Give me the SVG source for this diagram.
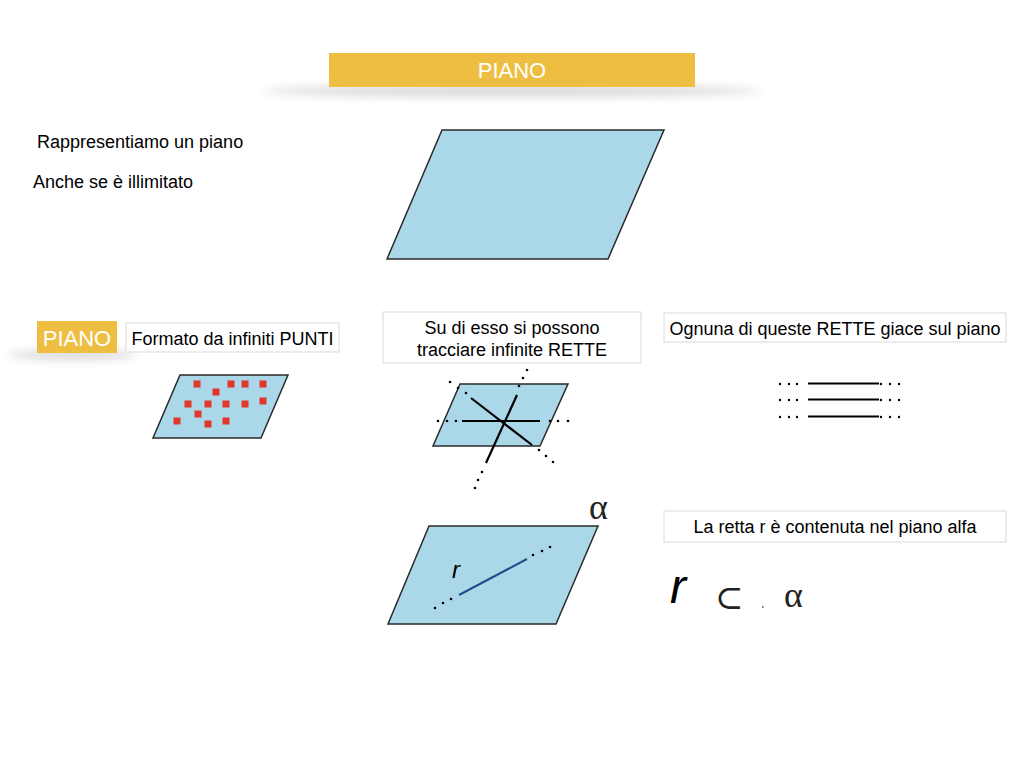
<svg xmlns="http://www.w3.org/2000/svg" width="1024" height="768" viewBox="0 0 1024 768">
<defs>
<filter id="blur" x="-20%" y="-200%" width="140%" height="500%"><feGaussianBlur stdDeviation="5"/></filter>
<style>
.t{font-family:"Liberation Sans",Arial,sans-serif;fill:#000}
.lbl{font-family:"Liberation Sans",Arial,sans-serif;fill:#fff}
.plane{fill:#aad8e9;stroke:#2a2a2a;stroke-width:1.5}
.box{fill:#fff;stroke:#d9d9d9;stroke-width:1}
.dot{fill:#000}
.sq{fill:#e0392b}
.ln{stroke:#000;stroke-width:2.2;fill:none}
.greek{font-family:"Liberation Serif","DejaVu Serif",serif;fill:#222}
</style>
</defs>
<rect width="1024" height="768" fill="#fff"/>

<g id="title">
<ellipse cx="512" cy="91" rx="250" ry="6" fill="#000" opacity="0.15" filter="url(#blur)"/>
<rect x="329" y="53" width="366" height="34" fill="#eebe43"/>
<text class="lbl" x="512" y="78" font-size="22" text-anchor="middle">PIANO</text>
</g>

<g id="intro">
<text class="t" x="37" y="148" font-size="18">Rappresentiamo un piano</text>
<text class="t" x="33" y="188" font-size="18">Anche se è illimitato</text>
</g>

<g id="plane-main">
<polygon class="plane" points="442,130 664,130 608,259 387,259"/>
</g>

<g id="piano-label">
<ellipse cx="72" cy="355" rx="65" ry="4" fill="#000" opacity="0.18" filter="url(#blur)"/>
<rect x="37" y="321" width="80" height="32" fill="#eebe43"/>
<text class="lbl" x="77" y="346" font-size="22" text-anchor="middle">PIANO</text>
</g>

<g id="box-punti">
<rect class="box" x="126" y="323" width="213" height="29"/>
<text class="t" x="232.5" y="345" font-size="18" text-anchor="middle">Formato da infiniti PUNTI</text>
</g>

<g id="plane-punti">
<polygon class="plane" points="180,375 288,375 261,438 153,438"/>
<g class="sq">
<rect x="193.5" y="380.5" width="7" height="7"/>
<rect x="227.5" y="380.5" width="7" height="7"/>
<rect x="241.5" y="380.5" width="7" height="7"/>
<rect x="259.5" y="380.5" width="7" height="7"/>
<rect x="212.5" y="388.5" width="7" height="7"/>
<rect x="184.5" y="400.5" width="7" height="7"/>
<rect x="204.5" y="400.5" width="7" height="7"/>
<rect x="222.5" y="400.5" width="7" height="7"/>
<rect x="241.5" y="400.5" width="7" height="7"/>
<rect x="259.5" y="397.5" width="7" height="7"/>
<rect x="194.5" y="410.5" width="7" height="7"/>
<rect x="173.5" y="417.5" width="7" height="7"/>
<rect x="204.5" y="420.5" width="7" height="7"/>
<rect x="222.5" y="417.5" width="7" height="7"/>
</g>
</g>

<g id="box-rette">
<rect class="box" x="383" y="312" width="258" height="51"/>
<text class="t" x="512" y="334" font-size="18" text-anchor="middle">Su di esso si possono</text>
<text class="t" x="512" y="356" font-size="18" text-anchor="middle">tracciare infinite RETTE</text>
</g>

<g id="plane-rette">
<polygon class="plane" points="460,384 568,384 540,446 433,446"/>
<line class="ln" x1="462" y1="421" x2="540" y2="421"/>
<line class="ln" x1="471" y1="398" x2="532" y2="445"/>
<line class="ln" x1="517" y1="395" x2="486" y2="463"/>
<g class="dot">
<circle cx="438" cy="421" r="1.3"/><circle cx="447" cy="421" r="1.3"/><circle cx="456" cy="421" r="1.3"/>
<circle cx="550" cy="421" r="1.3"/><circle cx="558" cy="421" r="1.3"/><circle cx="568" cy="421" r="1.3"/>
<circle cx="450" cy="382" r="1.3"/><circle cx="458" cy="388" r="1.3"/><circle cx="466" cy="393" r="1.3"/>
<circle cx="539" cy="450" r="1.3"/><circle cx="546" cy="456" r="1.3"/><circle cx="553" cy="462" r="1.3"/>
<circle cx="519" cy="386" r="1.3"/><circle cx="523" cy="378" r="1.3"/><circle cx="527" cy="370" r="1.3"/>
<circle cx="482" cy="472" r="1.3"/><circle cx="478" cy="480" r="1.3"/><circle cx="475" cy="488" r="1.3"/>
</g>
</g>

<g id="box-ognuna">
<rect class="box" x="664" y="313" width="342" height="29"/>
<text class="t" x="835" y="335" font-size="18" text-anchor="middle">Ognuna di queste RETTE giace sul piano</text>
</g>

<g id="three-lines">
<line class="ln" x1="808" y1="383.5" x2="879" y2="383.5"/>
<line class="ln" x1="808" y1="399.5" x2="879" y2="399.5"/>
<line class="ln" x1="808" y1="416.5" x2="879" y2="416.5"/>
<g class="dot">
<circle cx="780" cy="384" r="1.2"/><circle cx="789" cy="384" r="1.2"/><circle cx="797" cy="384" r="1.2"/>
<circle cx="881" cy="384" r="1.2"/><circle cx="890" cy="384" r="1.2"/><circle cx="899" cy="384" r="1.2"/>
<circle cx="780" cy="400" r="1.2"/><circle cx="789" cy="400" r="1.2"/><circle cx="797" cy="400" r="1.2"/>
<circle cx="881" cy="400" r="1.2"/><circle cx="890" cy="400" r="1.2"/><circle cx="899" cy="400" r="1.2"/>
<circle cx="780" cy="417" r="1.2"/><circle cx="789" cy="417" r="1.2"/><circle cx="797" cy="417" r="1.2"/>
<circle cx="881" cy="417" r="1.2"/><circle cx="890" cy="417" r="1.2"/><circle cx="899" cy="417" r="1.2"/>
</g>
</g>

<g id="plane-alfa">
<polygon class="plane" points="429,526 598,526 556,624 388,624"/>
<text class="greek" x="589" y="519" font-size="36">α</text>
<text class="t" x="452" y="578" font-size="24" font-style="italic">r</text>
<line x1="459" y1="595" x2="527" y2="559" stroke="#1f4e8a" stroke-width="2"/>
<g class="dot">
<circle cx="435" cy="608" r="1.3"/><circle cx="443" cy="603" r="1.3"/><circle cx="451" cy="599" r="1.3"/>
<circle cx="533" cy="555" r="1.3"/><circle cx="542" cy="551" r="1.3"/><circle cx="550" cy="547" r="1.3"/>
</g>
</g>

<g id="box-retta">
<rect class="box" x="664" y="511" width="342" height="31"/>
<text class="t" x="835" y="533" font-size="18" text-anchor="middle">La retta r è contenuta nel piano alfa</text>
</g>

<g id="formula">
<text class="t" x="670" y="603" font-size="48" font-style="italic">r</text>
<text x="715" y="609" font-size="34" font-family="DejaVu Serif, serif" fill="#222">⊂</text>
<rect x="762" y="606" width="1.5" height="2" fill="#777"/>
<text class="greek" x="784" y="607" font-size="36">α</text>
</g>
</svg>
